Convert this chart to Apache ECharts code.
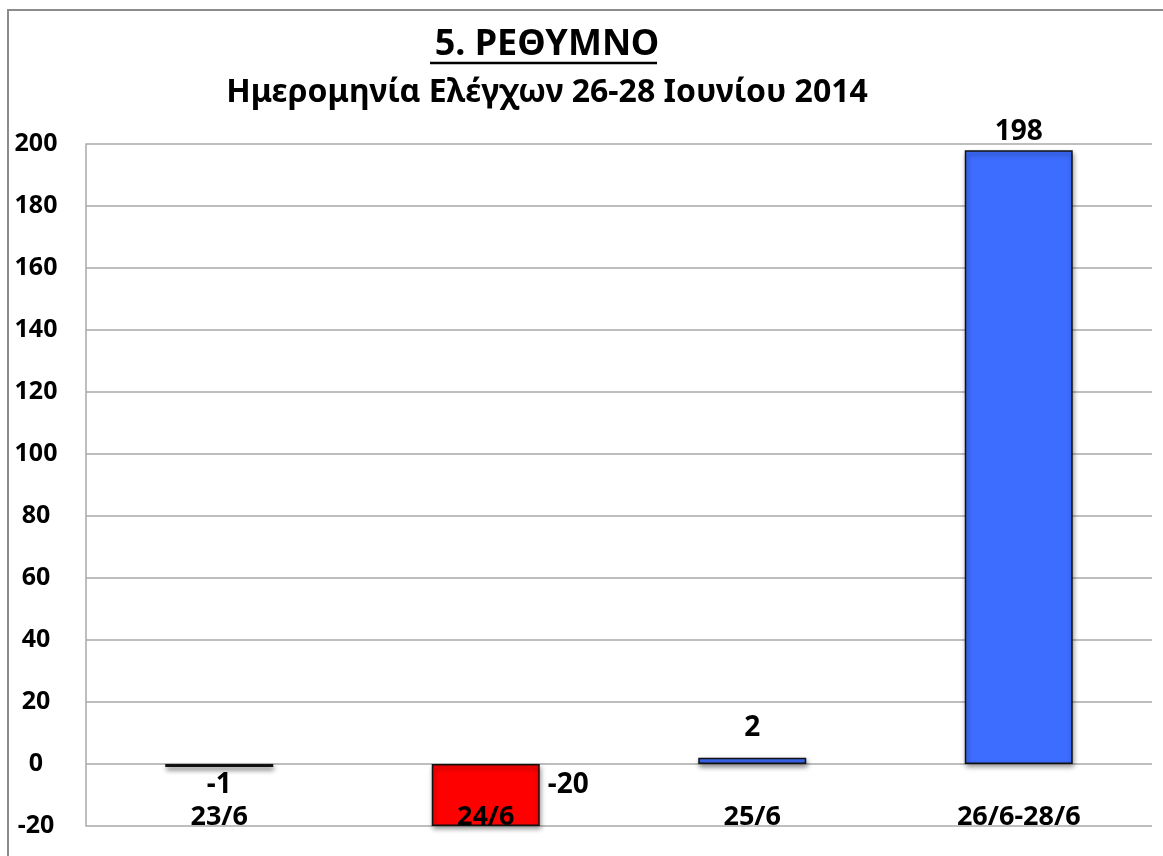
<!DOCTYPE html>
<html>
<head>
<meta charset="utf-8">
<script src="https://cdn.jsdelivr.net/npm/echarts@6/dist/echarts.min.js"></script>
<style>
html,body{margin:0;padding:0;background:#fff;}
#chart{width:1163px;height:856px;}
</style>
</head>
<body>
<div id="chart"></div>
<script>
const titleText = '5. ΡΕΘΥΜΝΟ';
const subtitleText = 'Ημερομηνία Ελέγχων 26-28 Ιουνίου 2014';
const categories = ['23/6', '24/6', '25/6', '26/6-28/6'];
const values = [-1, -20, 2, 198];
const yMin = -20, yMax = 200, yStep = 20;

const FONT = 'Noto Sans';
const RED = '#ff0000';
const BLUE = '#3d6dff';

const labelCfg = [
  {position: 'bottom', distance: 4},
  {position: 'right', distance: 8, offset: [0, -10]},
  {position: 'top', distance: 16},
  {position: 'top', distance: 4}
];

const data = values.map((v, i) => ({
  value: v,
  itemStyle: {color: v < 0 ? RED : BLUE},
  label: Object.assign({show: true}, labelCfg[i])
}));

const chart = echarts.init(document.getElementById('chart'), null, {renderer: 'canvas'});
chart.setOption({
  backgroundColor: '#fff',
  animation: false,
  title: [{
    text: titleText,
    left: 542,
    textAlign: 'center',
    top: 22,
    textStyle: {fontFamily: FONT, fontSize: 36, fontWeight: 'bold', color: '#000'}
  }, {
    text: subtitleText,
    left: 542,
    textAlign: 'center',
    top: 72,
    textStyle: {fontFamily: FONT, fontSize: 32, fontWeight: 'bold', color: '#000'}
  }],
  graphic: [
    {type: 'rect', shape: {x: 8, y: 10, width: 1200, height: 900},
     style: {fill: 'none', stroke: '#8c8c8c', lineWidth: 2}, silent: true, z: 100},
    {type: 'line', shape: {x1: 430, y1: 63, x2: 657, y2: 63},
     style: {stroke: '#000', lineWidth: 2.5}, z: 100}
  ],
  grid: {left: 86, right: 11, top: 144, bottom: 30, containLabel: false},
  xAxis: {
    type: 'category',
    data: categories,
    axisLine: {show: false},
    axisTick: {show: false},
    axisLabel: {
      fontFamily: FONT, fontSize: 27, fontWeight: 'bold', color: '#000',
      margin: -22, verticalAlign: 'top'
    },
    z: 10
  },
  yAxis: {
    type: 'value',
    min: yMin, max: yMax, interval: yStep,
    axisLine: {show: true, lineStyle: {color: '#a8a8a8', width: 1.5}},
    axisTick: {show: false},
    splitLine: {show: true, lineStyle: {color: '#a8a8a8', width: 1.5}},
    axisLabel: {
      fontFamily: FONT, fontSize: 25, fontWeight: 'bold', color: '#000',
      align: 'center', margin: 50
    }
  },
  series: [{
    type: 'bar',
    data: data,
    barWidth: 108,
    itemStyle: {
      borderColor: '#111', borderWidth: 1.5,
      shadowColor: 'rgba(0,0,0,0.45)', shadowBlur: 5, shadowOffsetX: 1, shadowOffsetY: 3
    },
    label: {
      show: true,
      fontFamily: FONT, fontSize: 28, fontWeight: 'bold', color: '#000'
    }
  }]
});
</script>
</body>
</html>
